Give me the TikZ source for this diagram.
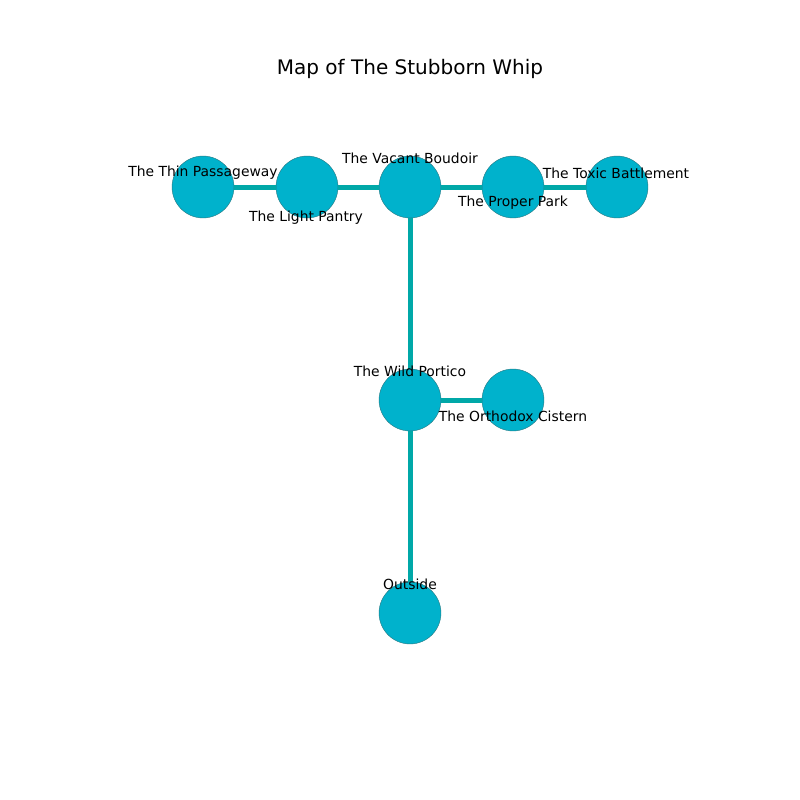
\documentclass[tikz,border=0pt]{standalone}
\usepackage{xcolor}
\usepackage{fontspec}
\setmainfont{DejaVu Sans}
\usepackage{tikz}

\definecolor{roomfill}{RGB}{0,178,204}
\definecolor{roomedge}{RGB}{40,120,130}
\definecolor{pathcol}{RGB}{0,168,168}

\tikzset{
	room/.style={circle,fill=roomfill,draw=roomedge,line width=0.3pt,minimum size=44.6pt,inner sep=0pt},
	passage/.style={pathcol,line width=3.6pt},
	lbl/.style={font=\fontsize{10}{12}\selectfont,inner sep=0pt}
}

\begin{document}
\begin{tikzpicture}[x=0.72pt,y=-0.72pt]
	\useasboundingbox (0,0) rectangle (800,800);
	\node[font=\fontsize{14.4}{17}\selectfont,inner sep=0pt] (title) at (410,69) {Map of The Stubborn Whip};

	\node[room] (thin) at (203,187) {};
	\node[room] (pantry) at (307,187) {};
	\node[room] (boudoir) at (410,187) {};
	\node[room] (park) at (513,187) {};
	\node[room] (battlement) at (617,187) {};
	\node[room] (portico) at (410,400) {};
	\node[room] (cistern) at (513,400) {};
	\node[room] (outside) at (410,613) {};

	\draw[passage] (thin) -- (pantry);
	\draw[passage] (pantry) -- (boudoir);
	\draw[passage] (boudoir) -- (park);
	\draw[passage] (park) -- (battlement);
	\draw[passage] (boudoir) -- (portico);
	\draw[passage] (portico) -- (cistern);
	\draw[passage] (portico) -- (outside);

	\node[lbl] (thinlbl) at (203,173) {The Thin Passageway};
	\node[lbl] (pantrylbl) at (306,218) {The Light Pantry};
	\node[lbl] (boudoirlbl) at (410,158) {The Vacant Boudoir};
	\node[lbl] (parklbl) at (513,203) {The Proper Park};
	\node[lbl] (battlementlbl) at (616,173) {The Toxic Battlement};
	\node[lbl] (porticolbl) at (410,371) {The Wild Portico};
	\node[lbl] (cisternlbl) at (513,416) {The Orthodox Cistern};
	\node[lbl] (outsidelbl) at (410,584) {Outside};
\end{tikzpicture}
\end{document}
